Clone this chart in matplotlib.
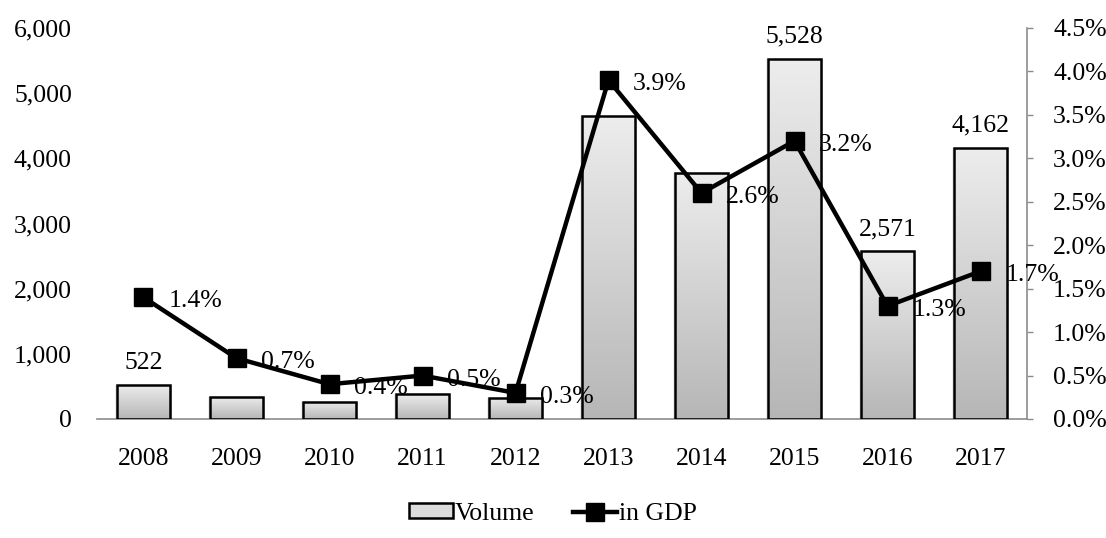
import numpy as np
import matplotlib
matplotlib.use("Agg")
import matplotlib.pyplot as plt
from matplotlib.ticker import FuncFormatter, MultipleLocator
from matplotlib.patches import Rectangle
from matplotlib.lines import Line2D
from matplotlib.colors import LinearSegmentedColormap

years = ["2008", "2009", "2010", "2011", "2012", "2013", "2014", "2015", "2016", "2017"]
volume = [522, 342, 265, 380, 325, 4650, 3780, 5528, 2571, 4162]
gdp_share = [1.4, 0.7, 0.4, 0.5, 0.3, 3.9, 2.6, 3.2, 1.3, 1.7]
labeled_bars = ["2008", "2015", "2016", "2017"]

plt.rcParams['font.family'] = ['Liberation Serif', 'DejaVu Serif']
FS = 18.5

fig = plt.figure(figsize=(11.06, 5.38), dpi=100)
ax = fig.add_axes([0.0877, 0.2212, 0.8409, 0.7268])
x = np.arange(len(years))
bw = 0.57

cmap = LinearSegmentedColormap.from_list("g", ["#b6b6b6", "#ededed"])
grad = np.linspace(0, 1, 256).reshape(-1, 1)
bars = ax.bar(x, volume, width=bw, facecolor='none', edgecolor='black', linewidth=1.8, zorder=3)
for b in bars:
    x0, y0 = b.get_x(), b.get_y()
    w, h = b.get_width(), b.get_height()
    im = ax.imshow(grad, cmap=cmap, origin='lower', aspect='auto',
                   extent=(x0, x0 + w, y0, y0 + h), zorder=2, interpolation='bilinear')
    im.set_clip_path(b)
    ax.add_patch(Rectangle((x0 + w, y0), 0.025, h, facecolor='#e2e2e2', edgecolor='none', zorder=1))
    ax.add_patch(Rectangle((x0 - 0.02, y0), 0.02, h, facecolor='#ececec', edgecolor='none', zorder=1))
ax.set_xlim(-0.5, len(years) - 0.5)
ax.set_ylim(0, 6000)

for i, (yr, v) in enumerate(zip(years, volume)):
    if yr in labeled_bars:
        ax.annotate(f"{v:,}", (i, v), xytext=(0, 11.5), textcoords='offset points',
                    ha='center', va='baseline', fontsize=FS)

ax.set_xticks(x)
ax.set_xticklabels(years, fontsize=FS)
ax.yaxis.set_major_locator(MultipleLocator(1000))
ax.yaxis.set_major_formatter(FuncFormatter(lambda v, p: f"{int(v):,}"))
ax.tick_params(axis='y', length=0, labelsize=FS, pad=18)
ax.tick_params(axis='x', length=0, pad=21)
for s in ['top', 'right', 'left']:
    ax.spines[s].set_visible(False)
ax.spines['bottom'].set_color('#8c8c8c')
ax.spines['bottom'].set_linewidth(1.2)

ax2 = ax.twinx()
ax2.set_ylim(0, 4.5)
ax2.plot(x, gdp_share, color='black', linewidth=3.2, marker='s', markersize=13,
         markerfacecolor='black', markeredgecolor='black', zorder=5)
for i, v in enumerate(gdp_share):
    ax2.annotate(f"{v:.1f}%", (i, v), xytext=(17.8, -7.2), textcoords='offset points',
                 ha='left', va='baseline', fontsize=FS)
ax2.yaxis.set_major_locator(MultipleLocator(0.5))
ax2.yaxis.set_major_formatter(FuncFormatter(lambda v, p: f"{v:.1f}%"))
ax2.tick_params(axis='y', direction='out', length=4.3, width=1.0, color='#8c8c8c', labelsize=FS, pad=14.5)
for s in ['top', 'left', 'bottom']:
    ax2.spines[s].set_visible(False)
ax2.spines['right'].set_color('#8c8c8c')
ax2.spines['right'].set_linewidth(1.2)

handles = [Rectangle((0, 0), 1, 1, facecolor='#dcdcdc', edgecolor='black', linewidth=1.8),
           Line2D([0], [0], color='black', linewidth=3.2, marker='s', markersize=13)]
fig.legend(handles, ["Volume", "in GDP"], loc='center', bbox_to_anchor=(0.5, 0.045),
           ncol=2, frameon=False, fontsize=FS, handlelength=1.7, handletextpad=0.08,
           columnspacing=1.5, handleheight=0.5)

fig.savefig("out.png", dpi=100)
